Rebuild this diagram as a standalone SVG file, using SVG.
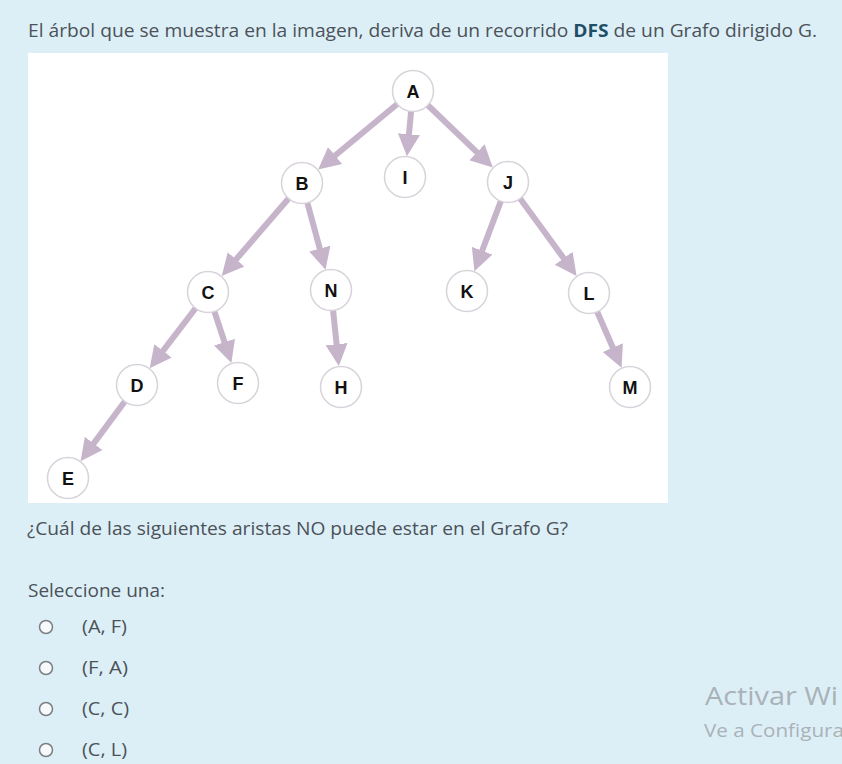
<svg xmlns="http://www.w3.org/2000/svg" width="842" height="764" viewBox="0 0 842 764">
<defs>
<style>
.txt{font-family:"Open Sans","Noto Sans","Liberation Sans",sans-serif;font-size:18px;fill:#4b5259}
.wm{font-family:"Open Sans","Noto Sans","Liberation Sans",sans-serif;fill:#a9b2b8}
.edge{stroke:#c6b4cb;stroke-width:6;fill:none;marker-end:url(#arr)}
.node circle{fill:#ffffff;stroke:#d8d2da;stroke-width:1.5}
.node text{font-family:"Liberation Sans",Arial,sans-serif;font-weight:bold;font-size:18px;fill:#111111;text-anchor:middle}
.radio{fill:#f7f9fa;stroke:#7a7f84;stroke-width:1.5}
</style>
<marker id="arr" markerUnits="userSpaceOnUse" markerWidth="22" markerHeight="24" viewBox="0 0 22 24" refX="7" refY="12" orient="auto">
<path d="M0,1 L22,12 L0,23 z" fill="#c6b4cb"/>
</marker>
</defs>
<rect x="0" y="0" width="842" height="764" fill="#ddeff6"/>
<text class="txt" x="28" y="37" textLength="789" lengthAdjust="spacingAndGlyphs">El árbol que se muestra en la imagen, deriva de un recorrido <tspan font-weight="bold" fill="#1f4f68">DFS</tspan> de un Grafo dirigido G.</text>
<rect x="28" y="53" width="640" height="450" fill="#ffffff"/>
<g id="connectors">
<line class="edge" x1="413" y1="91" x2="329.7" y2="160.0"/>
<line class="edge" x1="413" y1="91" x2="408.3" y2="141.2"/>
<line class="edge" x1="413" y1="91" x2="482.0" y2="157.1"/>
<line class="edge" x1="302" y1="183" x2="231.5" y2="264.7"/>
<line class="edge" x1="302" y1="183" x2="321.6" y2="255.3"/>
<line class="edge" x1="508" y1="182" x2="479.7" y2="257.3"/>
<line class="edge" x1="508" y1="182" x2="567.8" y2="263.9"/>
<line class="edge" x1="208" y1="292" x2="158.8" y2="356.4"/>
<line class="edge" x1="208" y1="292" x2="226.7" y2="348.8"/>
<line class="edge" x1="331" y1="290" x2="337.3" y2="351.2"/>
<line class="edge" x1="589" y1="293" x2="615.6" y2="354.0"/>
<line class="edge" x1="137" y1="385" x2="89.5" y2="449.1"/>
</g>
<g id="node-A" class="node"><circle cx="413" cy="91" r="20.5"/><text x="413" y="97.5">A</text></g>
<g id="node-B" class="node"><circle cx="302" cy="183" r="20.5"/><text x="302" y="189.5">B</text></g>
<g id="node-I" class="node"><circle cx="405" cy="177" r="20.5"/><text x="405" y="183.5">I</text></g>
<g id="node-J" class="node"><circle cx="508" cy="182" r="20.5"/><text x="508" y="188.5">J</text></g>
<g id="node-C" class="node"><circle cx="208" cy="292" r="20.5"/><text x="208" y="298.5">C</text></g>
<g id="node-N" class="node"><circle cx="331" cy="290" r="20.5"/><text x="331" y="296.5">N</text></g>
<g id="node-K" class="node"><circle cx="467" cy="291" r="20.5"/><text x="467" y="297.5">K</text></g>
<g id="node-L" class="node"><circle cx="589" cy="293" r="20.5"/><text x="589" y="299.5">L</text></g>
<g id="node-D" class="node"><circle cx="137" cy="385" r="20.5"/><text x="137" y="391.5">D</text></g>
<g id="node-F" class="node"><circle cx="238" cy="383" r="20.5"/><text x="238" y="389.5">F</text></g>
<g id="node-H" class="node"><circle cx="341" cy="387" r="20.5"/><text x="341" y="393.5">H</text></g>
<g id="node-M" class="node"><circle cx="630" cy="387" r="20.5"/><text x="630" y="393.5">M</text></g>
<g id="node-E" class="node"><circle cx="68" cy="478" r="20.5"/><text x="68" y="484.5">E</text></g>
<text class="txt" x="27" y="535" textLength="541" lengthAdjust="spacingAndGlyphs">¿Cuál de las siguientes aristas NO puede estar en el Grafo G?</text>
<text class="txt" x="28" y="597" textLength="137" lengthAdjust="spacingAndGlyphs">Seleccione una:</text>
<circle class="radio" cx="46" cy="627" r="6.5"/>
<text class="txt" x="82" y="633" textLength="45" lengthAdjust="spacingAndGlyphs">(A, F)</text>
<circle class="radio" cx="46" cy="668" r="6.5"/>
<text class="txt" x="82" y="674" textLength="46" lengthAdjust="spacingAndGlyphs">(F, A)</text>
<circle class="radio" cx="46" cy="709" r="6.5"/>
<text class="txt" x="82" y="715" textLength="47" lengthAdjust="spacingAndGlyphs">(C, C)</text>
<circle class="radio" cx="46" cy="750" r="6.5"/>
<text class="txt" x="82" y="756" textLength="45" lengthAdjust="spacingAndGlyphs">(C, L)</text>
<text class="wm" x="705" y="705" font-size="26" textLength="133" lengthAdjust="spacingAndGlyphs">Activar Wi</text>
<text class="wm" x="704" y="737" font-size="18" textLength="140" lengthAdjust="spacingAndGlyphs">Ve a Configura</text>
</svg>
